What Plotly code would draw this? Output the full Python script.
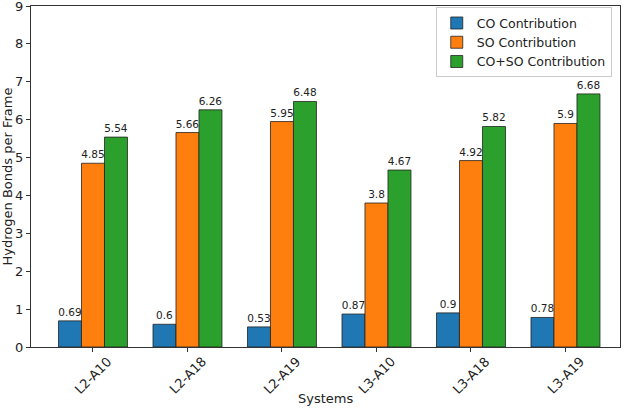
import plotly.graph_objects as go

systems = ["L2-A10", "L2-A18", "L2-A19", "L3-A10", "L3-A18", "L3-A19"]
co_vals = [0.69, 0.6, 0.53, 0.87, 0.9, 0.78]
so_vals = [4.85, 5.66, 5.95, 3.8, 4.92, 5.9]
coso_vals = [5.54, 6.26, 6.48, 4.67, 5.82, 6.68]
series_names = ["CO Contribution", "SO Contribution", "CO+SO Contribution"]
colors = ["#1f77b4", "#ff7f0e", "#2ca02c"]
y_ticks = list(range(0, 10))

FONT = "DejaVu Sans"
fig = go.Figure()
for name, vals, col in zip(series_names, [co_vals, so_vals, coso_vals], colors):
    fig.add_trace(go.Bar(
        x=systems, y=vals, name=name,
        marker=dict(color=col, line=dict(color="#222222", width=0.8)),
        text=[str(v) for v in vals], textposition="outside",
        textfont=dict(family=FONT, size=10.5, color="#222222"),
        constraintext="none", cliponaxis=False,
    ))

for s in systems:
    fig.add_annotation(x=s, xref="x", y=0, yref="paper", yanchor="top", xanchor="center",
                       yshift=-4, text=s, textangle=-45, showarrow=False,
                       font=dict(family=FONT, size=13, color="#222222"))

fig.add_annotation(x=0.5, xref="paper", y=-0.152, yref="paper", yanchor="middle", xanchor="center",
                   text="Systems", showarrow=False, font=dict(family=FONT, size=13, color="#222222"))

fig.update_layout(
    width=627, height=412,
    margin=dict(l=31, r=7, t=6, b=65),
    paper_bgcolor="white", plot_bgcolor="white",
    barmode="group", bargap=0.27, bargroupgap=0,
    font=dict(family=FONT, size=13, color="#222222"),
    showlegend=True,
    legend=dict(x=0.986, y=0.996, xanchor="right", yanchor="top",
                bgcolor="rgba(255,255,255,0.8)", bordercolor="#cccccc", borderwidth=1,
                font=dict(family=FONT, size=12.5, color="#222222"), tracegroupgap=0),
    xaxis=dict(range=[-0.656, 5.577], showticklabels=False, ticks="outside", ticklen=4,
               tickcolor="#333333", showline=True, linecolor="#333333", linewidth=1, mirror=True,
               showgrid=False, zeroline=False, automargin=False),
    yaxis=dict(range=[0, 9], tickvals=y_ticks, ticks="outside", ticklen=4, tickcolor="#333333",
               ticklabeloverflow="allow", automargin=False,
               showline=True, linecolor="#333333", linewidth=1, mirror=True, showgrid=False,
               zeroline=False, tickfont=dict(family=FONT, size=13, color="#222222"),
               title=dict(text="Hydrogen Bonds per Frame", standoff=5,
                          font=dict(family=FONT, size=13, color="#222222"))),
)

fig.write_html("out.html")
